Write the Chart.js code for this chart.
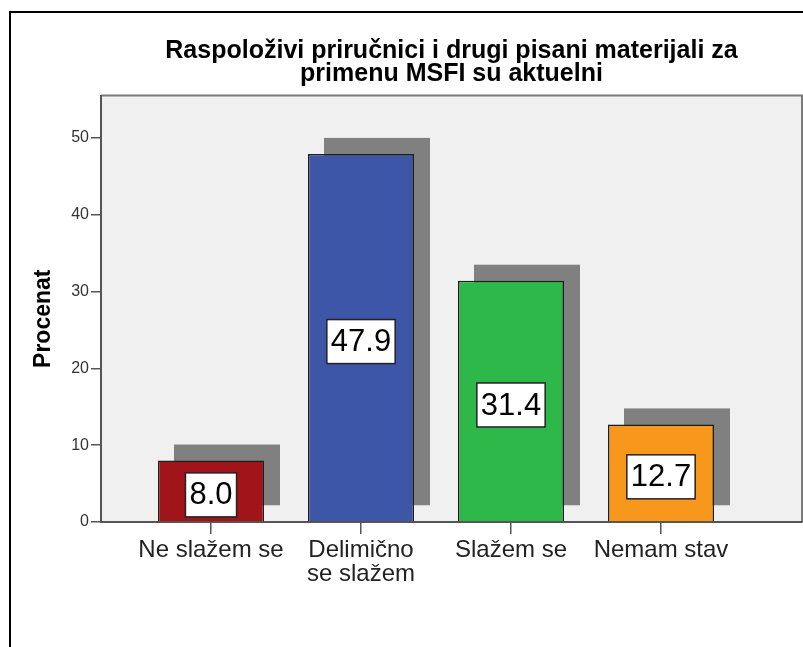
<!DOCTYPE html>
<html><head><meta charset="utf-8">
<script src="https://cdn.jsdelivr.net/npm/chart.js@4.4.0/dist/chart.umd.min.js"></script>
<style>
html,body{margin:0;padding:0;background:#fff;overflow:hidden;}
#wrap{position:relative;width:803px;height:647px;overflow:hidden;}
#frame{position:absolute;left:9px;top:11px;width:900px;height:900px;border-top:2px solid #000;border-left:2px solid #000;pointer-events:none;}
canvas{position:absolute;left:0;top:0;}
</style></head><body>
<div id="wrap"><canvas id="c" width="803" height="647"></canvas><div id="frame"></div></div>
<script>
const titleLines = ['Raspoloživi priručnici i drugi pisani materijali za', 'primenu MSFI su aktuelni'];
const categories = [['Ne slažem se'], ['Delimično', 'se slažem'], ['Slažem se'], ['Nemam stav']];
const percentages = [8.0, 47.9, 31.4, 12.7];
const barColors = ['#a1151a', '#3d56a8', '#2eb84a', '#f7981d'];
const yTicks = [0, 10, 20, 30, 40, 50];
const yTitle = 'Procenat';

const FONT = 'Arial, "Liberation Sans", sans-serif';

const plotBg = {
  id: 'plotBg',
  beforeDraw(chart) {
    const {ctx, chartArea: a} = chart;
    ctx.save();
    ctx.fillStyle = '#f0f0f0';
    ctx.fillRect(a.left, a.top, a.right - a.left, a.bottom - a.top);
    ctx.strokeStyle = '#7a7a7a';
    ctx.lineWidth = 2;
    ctx.beginPath();
    ctx.moveTo(a.left, a.top);
    ctx.lineTo(a.right, a.top);
    ctx.lineTo(a.right, a.bottom);
    ctx.stroke();
    ctx.restore();
  }
};

const shadows = {
  id: 'shadows',
  beforeDatasetsDraw(chart) {
    const {ctx} = chart;
    const meta = chart.getDatasetMeta(0);
    ctx.save();
    ctx.fillStyle = '#808080';
    meta.data.forEach(b => {
      const w = b.width;
      ctx.fillRect(b.x - w / 2 + 16, b.y - 16, w, b.base - b.y);
    });
    ctx.restore();
  }
};

const valueBoxes = {
  id: 'valueBoxes',
  afterDatasetsDraw(chart) {
    const {ctx} = chart;
    const meta = chart.getDatasetMeta(0);
    ctx.save();
    ctx.font = '31px ' + FONT;
    ctx.textAlign = 'center';
    ctx.textBaseline = 'middle';
    meta.data.forEach((b, i) => {
      const txt = percentages[i].toFixed(1);
      const w = ctx.measureText(txt).width + 8;
      const h = 44;
      const cx = b.x;
      const cy = (b.y + b.base) / 2 + 4;
      ctx.fillStyle = '#ffffff';
      ctx.fillRect(cx - w / 2, cy - h / 2, w, h);
      ctx.strokeStyle = '#222';
      ctx.lineWidth = 1.5;
      ctx.strokeRect(cx - w / 2, cy - h / 2, w, h);
      ctx.fillStyle = '#000';
      ctx.fillText(txt, cx, cy + 1);
    });
    ctx.restore();
  }
};

const yAxisTitle = {
  id: 'yAxisTitle',
  afterDraw(chart) {
    const {ctx, chartArea: a} = chart;
    ctx.save();
    ctx.translate(44, (a.top + a.bottom) / 2 + 10);
    ctx.rotate(-Math.PI / 2);
    ctx.font = 'bold 23px ' + FONT;
    ctx.fillStyle = '#000';
    ctx.textAlign = 'center';
    ctx.textBaseline = 'middle';
    ctx.fillText(yTitle, 0, 0);
    ctx.restore();
  }
};

new Chart(document.getElementById('c'), {
  type: 'bar',
  data: {
    datasets: [{
      data: percentages.map((v, i) => ({x: i, y: v})),
      backgroundColor: barColors,
      borderColor: '#1e1e1e',
      borderWidth: 1.5,
      barPercentage: 0.7067,
      categoryPercentage: 1
    }]
  },
  options: {
    responsive: false,
    animation: false,
    layout: {padding: {left: 0, right: 1, top: 0, bottom: 0}},
    plugins: {
      legend: {display: false},
      tooltip: {enabled: false},
      title: {
        display: true,
        fullSize: false,
        text: titleLines,
        color: '#000',
        font: {family: FONT, size: 25, weight: 'bold', lineHeight: 0.92},
        padding: {top: 39.5, bottom: 10}
      }
    },
    scales: {
      x: {
        type: 'linear',
        offset: false,
        min: -0.7333,
        max: 3.94,
        afterBuildTicks: s => { s.ticks = categories.map((_, i) => ({value: i})); },
        afterFit: s => { s.height = 125; },
        ticks: {
          callback: v => categories[v],
          font: {family: FONT, size: 24, lineHeight: 1.0},
          color: '#222',
          padding: 4,
          autoSkip: false,
          maxRotation: 0
        },
        grid: {display: true, offset: false, drawOnChartArea: false, drawTicks: true, tickLength: 12, color: '#555', lineWidth: 1.5},
        border: {display: true, color: '#555', width: 2}
      },
      y: {
        min: 0,
        max: 55.5,
        afterBuildTicks: s => { s.ticks = yTicks.map(v => ({value: v})); },
        afterFit: s => { s.width = 101; },
        ticks: {
          font: {family: FONT, size: 16},
          color: '#333',
          padding: 2
        },
        grid: {display: true, drawOnChartArea: false, drawTicks: true, tickLength: 10, color: '#555', lineWidth: 1.5},
        border: {display: true, color: '#555', width: 2}
      }
    }
  },
  plugins: [plotBg, shadows, valueBoxes, yAxisTitle]
});
</script>
</body></html>
